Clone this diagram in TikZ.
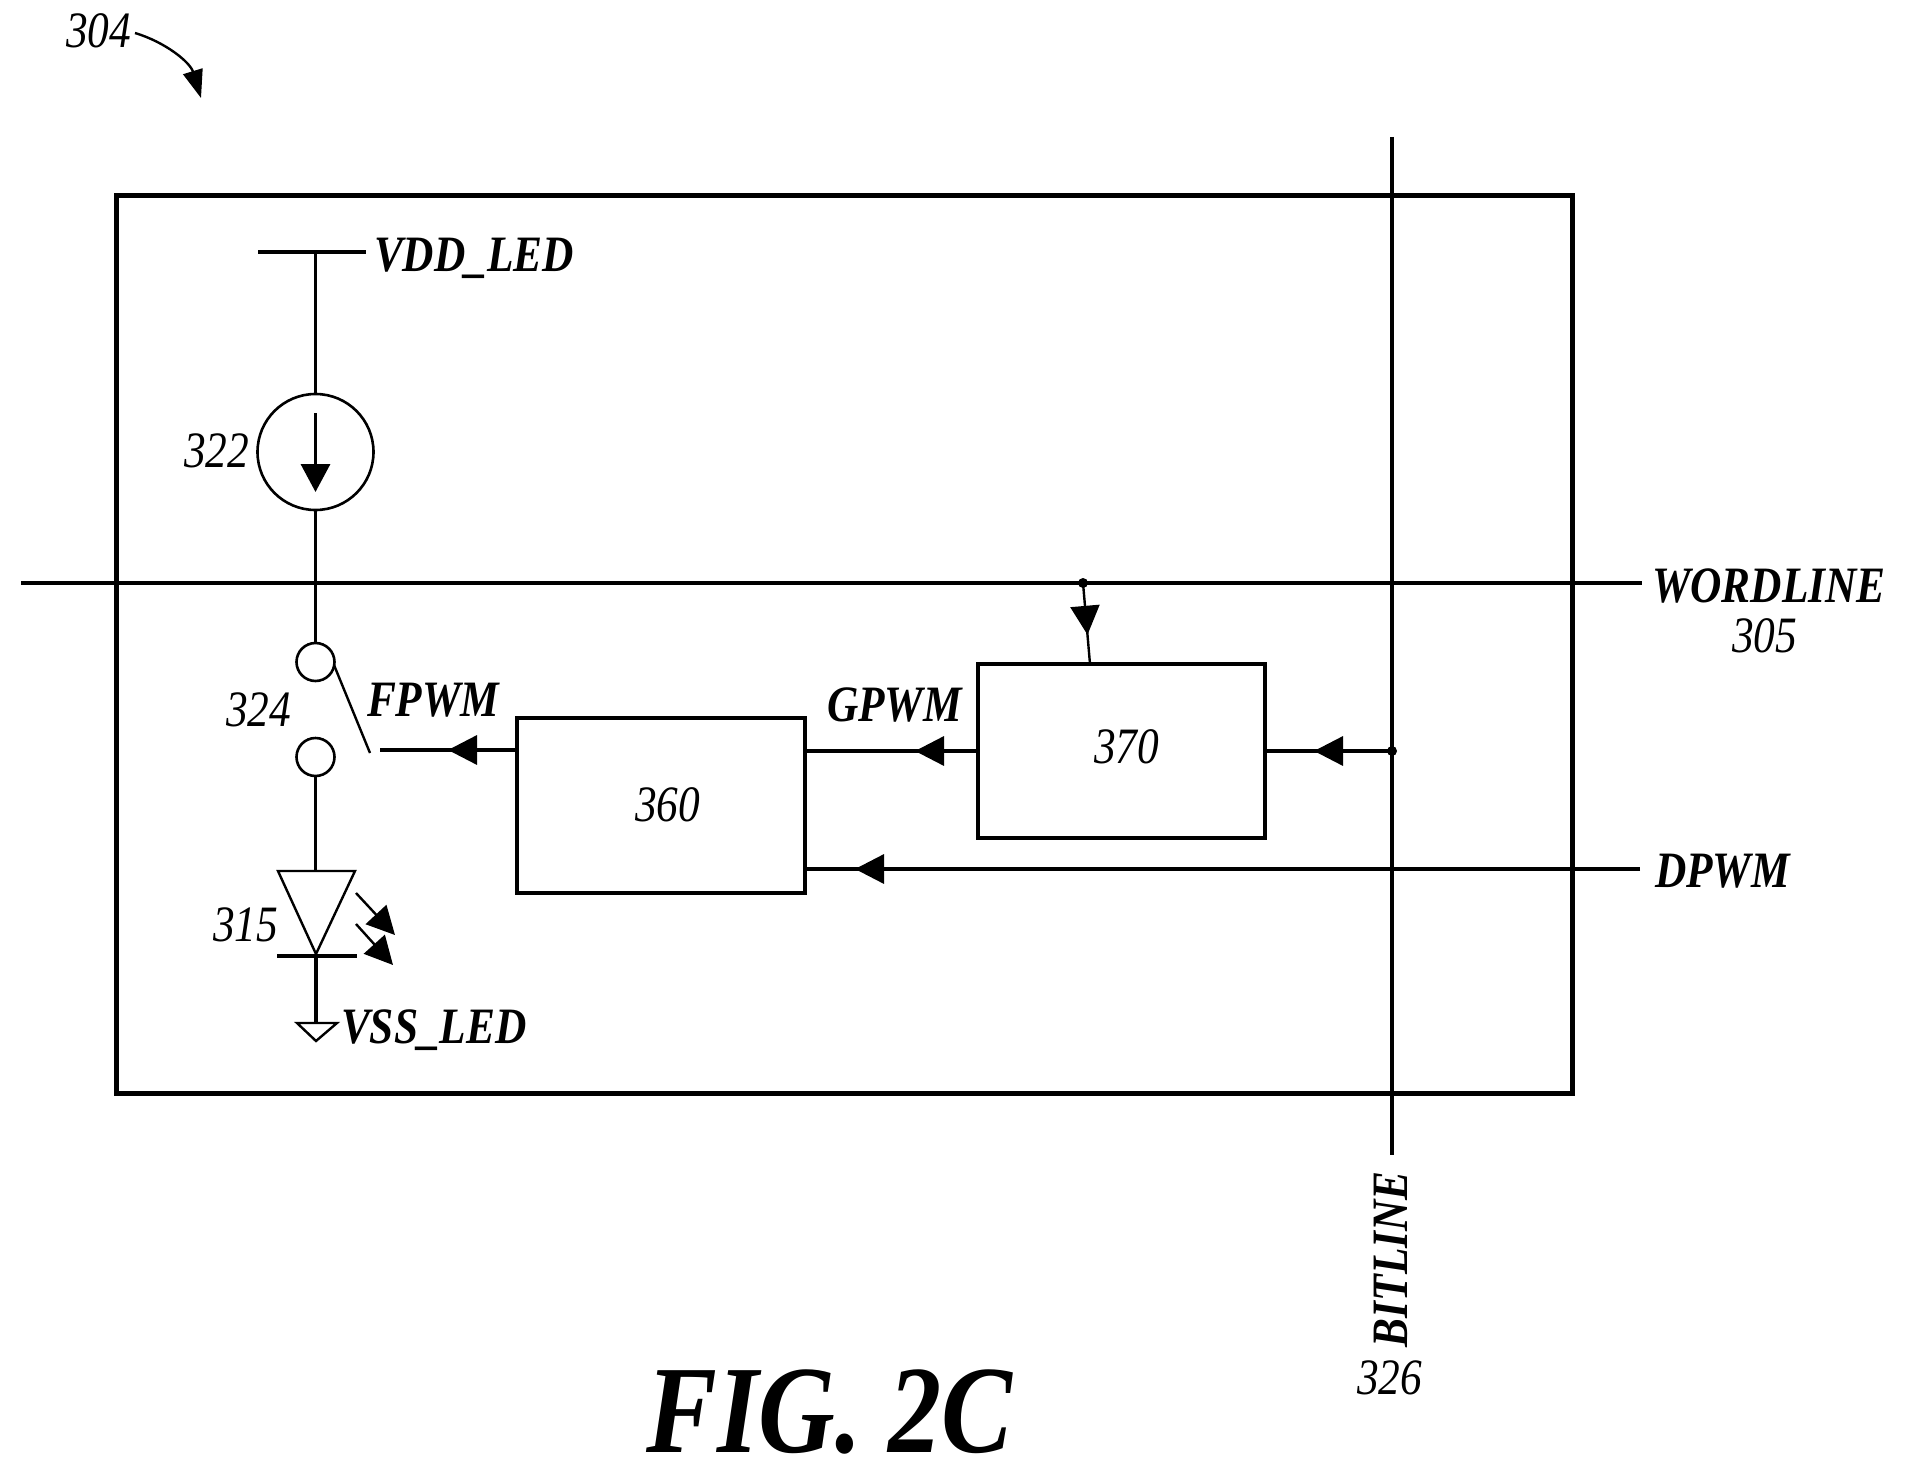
\documentclass[tikz,border=0pt]{standalone}
\usepackage{fontspec}
\setmainfont{Liberation Serif}[FakeStretch=0.85]
\usetikzlibrary{arrows.meta,decorations.markings}
\tikzset{
  x=1pt,y=-1pt,
  wire/.style={line width=3.4pt,black},
  busline/.style={line width=4.5pt,black},
  thinwire/.style={line width=2.4pt,black},
  blockbox/.style={draw=black,line width=3.6pt,fill=white,inner sep=0pt,outer sep=0pt},
  contact/.style={circle,draw=black,line width=2.6pt,minimum size=38pt,inner sep=0pt,outer sep=0pt},
  srccircle/.style={circle,draw=black,line width=2.6pt,minimum size=116pt,inner sep=0pt,outer sep=0pt},
  junction/.style={circle,fill=black,minimum size=10pt,inner sep=0pt,outer sep=0pt},
  reflabel/.style={inner sep=0pt,outer sep=0pt,anchor=base west,font=\fontsize{51}{51}\selectfont\itshape},
  siglabel/.style={inner sep=0pt,outer sep=0pt,anchor=base west,font=\fontsize{51}{51}\selectfont\bfseries\itshape},
  headat/.style={postaction={decorate},decoration={markings,mark=at position #1 with {\arrow{Triangle[length=29pt,width=29pt]}}}},
  ledhead/.style={-{Triangle[length=28pt,width=28pt]},line width=2.4pt,black},
}
\begin{document}
\begin{tikzpicture}
\useasboundingbox (0,0) rectangle (1911,1474);
\fill[white] (0,0) rectangle (1911,1474);
% frame
\node[draw=black,line width=5pt,minimum width=1456pt,minimum height=897pt,inner sep=0pt,outer sep=0pt] (panel) at (844,644.5) {};
% long lines
\coordinate (wlL) at (21,583);
\coordinate (wlR) at (1642,583);
\coordinate (blT) at (1392,137);
\coordinate (blB) at (1392,1155);
\coordinate (dpR) at (1640,869);
\draw[busline] (wlL) -- (wlR);
\draw[wire] (blT) -- (blB);
% blocks
\node[blockbox,minimum width=288pt,minimum height=175pt] (b360) at (661,805.5) {};
\node[blockbox,minimum width=287pt,minimum height=174pt] (b370) at (1121.5,751) {};
\node[reflabel] (t360) at (635,821) {360};
\node[reflabel] (t370) at (1094,763) {370};
% junctions
\node[junction] (jw) at (1083,583) {};
\node[junction] (jb) at (1392,751) {};
\coordinate (b370in) at (1090,664);
\coordinate (fpEnd) at (380,750);
% signal connectors
\draw[thinwire,headat=52pt] (jw.center) -- (b370in);
\draw[wire,headat=78pt] (jb.center) -- (b370.east);
\draw[wire,headat=63pt] (b370.west) -- (b360.east |- b370.west);
\draw[wire,headat=785pt] (dpR) -- (b360.east |- dpR);
\draw[wire,headat=69pt] (b360.west |- fpEnd) -- (fpEnd);
% supply
\coordinate (vddL) at (258,252);
\coordinate (vddR) at (366,252);
\coordinate (vddC) at (315.5,252);
\draw[wire] (vddL) -- (vddR);
\node[srccircle] (src) at (315.5,452) {};
\coordinate (srcA) at (315.5,413);
\coordinate (srcB) at (315.5,492);
\draw[wire] (vddC) -- (src.north);
\draw[wire,-{Triangle[length=28pt,width=29pt]}] (srcA) -- (srcB);
% switch
\node[contact] (sw1) at (315.5,662) {};
\node[contact] (sw2) at (315.5,757) {};
\coordinate (armA) at (334,665);
\coordinate (armB) at (370,753);
\draw[wire] (src.south) -- (sw1.north);
\draw[thinwire] (armA) -- (armB);
% LED
\coordinate (ledL) at (278,871);
\coordinate (ledR) at (355,871);
\coordinate (ledT) at (315.5,871);
\coordinate (ledA) at (316,954);
\coordinate (barL) at (277,956);
\coordinate (barR) at (357,956);
\draw[wire] (sw2.south) -- (ledT);
\draw[thinwire,line join=miter] (ledL) -- (ledR) -- (ledA) -- cycle;
\draw[wire] (barL) -- (barR);
\coordinate (gndT) at (316,1023);
\coordinate (gndL) at (297,1023);
\coordinate (gndR) at (337,1023);
\coordinate (gndA) at (316,1041);
\draw[wire] (ledA) -- (gndT);
\draw[thinwire] (gndL) -- (gndR) -- (gndA) -- cycle;
\coordinate (e1a) at (356,893);
\coordinate (e1b) at (395,935);
\coordinate (e2a) at (356,924);
\coordinate (e2b) at (393,965);
\draw[ledhead] (e1a) -- (e1b);
\draw[ledhead] (e2a) -- (e2b);
% reference arrow
\coordinate (r304a) at (135,33);
\coordinate (r304b) at (201,98);
\draw[thinwire,-{Triangle[length=28pt,width=20pt]}] (r304a) .. controls (165,42) and (190,62) .. (r304b);
% labels
\node[reflabel] (l304) at (66,48) {304};
\node[reflabel] (l322) at (184,467) {322};
\node[reflabel] (l324) at (226,726) {324};
\node[reflabel] (l315) at (213,941) {315};
\node[reflabel] (l305) at (1732,652) {305};
\node[reflabel] (l326) at (1357,1394) {326};
\node[siglabel] (lvdd) at (374,271) {VDD\_LED};
\node[siglabel] (lvss) at (341,1043) {VSS\_LED};
\node[siglabel] (lf) at (367,716) {FPWM};
\node[siglabel] (lg) at (827,721) {GPWM};
\node[siglabel] (lw) at (1652,602) {WORDLINE};
\node[siglabel] (ld) at (1655,887) {DPWM};
\node[siglabel,rotate=90] (lb) at (1407,1347) {BITLINE};
\node[inner sep=0pt,text depth=0pt,anchor=base west,font=\fontsize{125}{125}\selectfont\bfseries\itshape] (fig) at (646,1452) {FIG. 2C};
\end{tikzpicture}
\end{document}
